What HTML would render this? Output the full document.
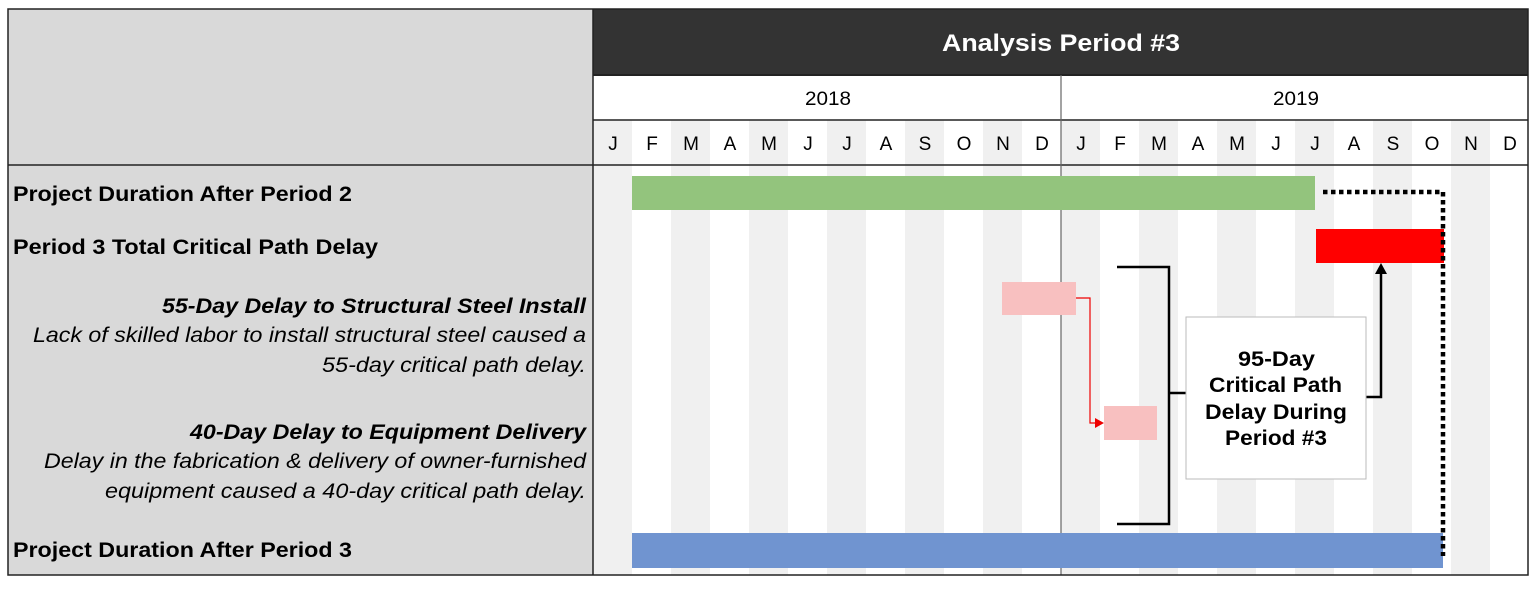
<!DOCTYPE html>
<html><head><style>
body{margin:0;width:1536px;height:584px;background:#fff;overflow:hidden;font-family:"Liberation Sans",Arial,sans-serif}
</style></head><body>
<svg width="1536" height="584" xmlns="http://www.w3.org/2000/svg" font-family="Liberation Sans, Arial, sans-serif">
<rect x="8" y="9" width="585" height="566" fill="#d9d9d9"/>
<rect x="593" y="9" width="935" height="66" fill="#333"/>
<text x="942" y="51" fill="#fff" font-size="24" font-weight="bold" textLength="238" lengthAdjust="spacingAndGlyphs">Analysis Period #3</text>
<rect x="593" y="75" width="935" height="45" fill="#fff"/>
<text x="805" y="105" font-size="19" textLength="46" lengthAdjust="spacingAndGlyphs">2018</text>
<text x="1273" y="105" font-size="19" textLength="46" lengthAdjust="spacingAndGlyphs">2019</text>
<g id="stripes">
<rect x="593" y="120" width="39" height="455" fill="#f0f0f0"/>
<rect x="671" y="120" width="39" height="455" fill="#f0f0f0"/>
<rect x="749" y="120" width="39" height="455" fill="#f0f0f0"/>
<rect x="827" y="120" width="39" height="455" fill="#f0f0f0"/>
<rect x="905" y="120" width="39" height="455" fill="#f0f0f0"/>
<rect x="983" y="120" width="39" height="455" fill="#f0f0f0"/>
<rect x="1061" y="120" width="39" height="455" fill="#f0f0f0"/>
<rect x="1139" y="120" width="39" height="455" fill="#f0f0f0"/>
<rect x="1217" y="120" width="39" height="455" fill="#f0f0f0"/>
<rect x="1295" y="120" width="39" height="455" fill="#f0f0f0"/>
<rect x="1373" y="120" width="39" height="455" fill="#f0f0f0"/>
<rect x="1451" y="120" width="39" height="455" fill="#f0f0f0"/>
</g>
<g font-size="19" text-anchor="middle">
<text x="613" y="150">J</text><text x="652" y="150">F</text><text x="691" y="150">M</text><text x="730" y="150">A</text><text x="769" y="150">M</text><text x="808" y="150">J</text><text x="847" y="150">J</text><text x="886" y="150">A</text><text x="925" y="150">S</text><text x="964" y="150">O</text><text x="1003" y="150">N</text><text x="1042" y="150">D</text>
<text x="1081" y="150">J</text><text x="1120" y="150">F</text><text x="1159" y="150">M</text><text x="1198" y="150">A</text><text x="1237" y="150">M</text><text x="1276" y="150">J</text><text x="1315" y="150">J</text><text x="1354" y="150">A</text><text x="1393" y="150">S</text><text x="1432" y="150">O</text><text x="1471" y="150">N</text><text x="1510" y="150">D</text>
</g>
<line x1="593" y1="75" x2="1528" y2="75" stroke="#222" stroke-width="2"/>
<line x1="593" y1="120" x2="1528" y2="120" stroke="#222" stroke-width="1.5"/>
<line x1="8" y1="165" x2="1528" y2="165" stroke="#222" stroke-width="1.5"/>
<line x1="1061" y1="75" x2="1061" y2="575" stroke="#666" stroke-width="1.2"/>
<line x1="593" y1="9" x2="593" y2="575" stroke="#222" stroke-width="1.5"/>
<rect x="8" y="9" width="1520" height="566" fill="none" stroke="#222" stroke-width="1.5"/>
<rect x="632" y="176" width="683" height="34" fill="#93c47d"/>
<rect x="1316" y="229" width="128" height="34" fill="#ff0000"/>
<rect x="632" y="533" width="811" height="35" fill="#7094d0"/>
<rect x="1002" y="282" width="74" height="33" fill="#f8c0c0"/>
<rect x="1104" y="406" width="53" height="34" fill="#f8c0c0"/>
<polyline points="1076,298 1090,298 1090,423 1097,423" fill="none" stroke="#e00" stroke-width="1.2"/>
<polygon points="1104,423 1095,418 1095,428" fill="#e00"/>
<polyline points="1117,267 1169,267 1169,524 1117,524" fill="none" stroke="#000" stroke-width="2.5"/>
<line x1="1169" y1="393" x2="1186" y2="393" stroke="#000" stroke-width="2.5"/>
<polyline points="1366,397 1381,397 1381,272" fill="none" stroke="#000" stroke-width="2.5"/>
<polygon points="1381,263 1375,274 1387,274" fill="#000"/>
<rect x="1186" y="317" width="180" height="162" fill="#fff" stroke="#bbb" stroke-width="1"/>
<g font-size="21" font-weight="bold">
<text x="1238" y="366" textLength="77" lengthAdjust="spacingAndGlyphs">95-Day</text>
<text x="1209" y="392" textLength="133" lengthAdjust="spacingAndGlyphs">Critical Path</text>
<text x="1205" y="419" textLength="142" lengthAdjust="spacingAndGlyphs">Delay During</text>
<text x="1225" y="445" textLength="102" lengthAdjust="spacingAndGlyphs">Period #3</text>
</g>
<polyline points="1323,192 1443,192 1443,556" fill="none" stroke="#000" stroke-width="4.5" stroke-dasharray="4.5,3.5"/>
<g font-size="21" font-weight="bold">
<text x="13" y="201" textLength="339" lengthAdjust="spacingAndGlyphs">Project Duration After Period 2</text>
<text x="13" y="254" textLength="365" lengthAdjust="spacingAndGlyphs">Period 3 Total Critical Path Delay</text>
<text x="13" y="557" textLength="339" lengthAdjust="spacingAndGlyphs">Project Duration After Period 3</text>
</g>
<g font-size="21" font-style="italic">
<text x="162" y="313" font-weight="bold" textLength="424" lengthAdjust="spacingAndGlyphs">55-Day Delay to Structural Steel Install</text>
<text x="33" y="342" textLength="553" lengthAdjust="spacingAndGlyphs">Lack of skilled labor to install structural steel caused a</text>
<text x="322" y="372" textLength="264" lengthAdjust="spacingAndGlyphs">55-day critical path delay.</text>
<text x="190" y="439" font-weight="bold" textLength="396" lengthAdjust="spacingAndGlyphs">40-Day Delay to Equipment Delivery</text>
<text x="44" y="468" textLength="542" lengthAdjust="spacingAndGlyphs">Delay in the fabrication &amp; delivery of owner-furnished</text>
<text x="105" y="498" textLength="481" lengthAdjust="spacingAndGlyphs">equipment caused a 40-day critical path delay.</text>
</g>
</svg>
</body></html>
